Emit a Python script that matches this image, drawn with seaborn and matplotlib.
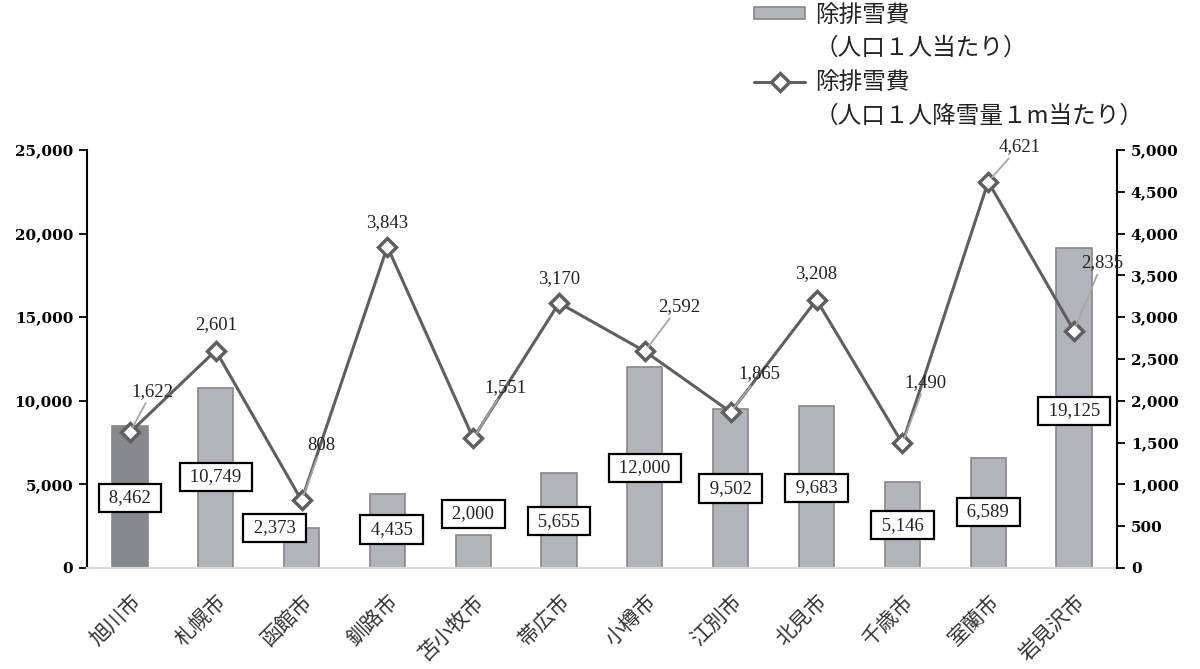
import matplotlib
matplotlib.use('Agg')
import matplotlib.pyplot as plt
import seaborn as sns
import pandas as pd
import numpy as np
from matplotlib.patches import Patch
from matplotlib.lines import Line2D
from matplotlib.ticker import FuncFormatter

# data
cities = ['旭川市', '札幌市', '函館市', '釧路市', '苫小牧市', '帯広市',
          '小樽市', '江別市', '北見市', '千歳市', '室蘭市', '岩見沢市']
per_capita = [8462, 10749, 2373, 4435, 2000, 5655, 12000, 9502, 9683, 5146, 6589, 19125]
per_snow_m = [1622, 2601, 808, 3843, 1551, 3170, 2592, 1865, 3208, 1490, 4621, 2835]

# where the boxed bar labels sit (left axis units) and small x shifts (px)
box_y = [4200, 5450, 2400, 2300, 3250, 2800, 6000, 4750, 4800, 2550, 3350, 9400]
box_dx = [0, 0, -27, 4, 0, 0, 0, 0, 0, 0, 0, 0]
# offsets of line labels from their points (px)
lbl_dx = [22, 0, 20, 0, 32, 0, 34, 29, 0, 23, 31, 28]
lbl_dy = [41, 26, 55, 24, 51, 24, 45, 38, 26, 61, 35, 68]

sns.set_theme(style='white')
plt.rcParams['font.family'] = ['Noto Sans CJK JP', 'DejaVu Sans']

df = pd.DataFrame({'city': cities, 'per_capita': per_capita, 'per_snow': per_snow_m})

fig = plt.figure(figsize=(12, 6.69), dpi=100)
ax = fig.add_axes([0.0725, 0.151, 0.8583, 0.6248])

bar_colors = ['#87888c'] + ['#b3b4b8'] * 11
sns.barplot(data=df, x='city', y='per_capita', hue='city', palette=bar_colors,
            legend=False, width=0.41, edgecolor='#88888a', linewidth=1.2,
            saturation=1, ax=ax)
ax.patches[0].set_edgecolor('#87888c')
ax.set_xlim(-0.5, 11.5)
ax.set_ylim(0, 25000)
ax.set_yticks(np.arange(0, 25001, 5000))
ax.yaxis.set_major_formatter(FuncFormatter(lambda v, p: f'{v:,.0f}'))
ax.set_xlabel('')
ax.set_ylabel('')

ax2 = ax.twinx()
sns.lineplot(x=np.arange(len(cities)), y=per_snow_m, ax=ax2, color='#5f5f5f', lw=2.2,
             marker='D', markersize=9, markerfacecolor='white',
             markeredgecolor='#5f5f5f', markeredgewidth=2.5)
ax2.set_ylim(0, 5000)
ax2.set_yticks(np.arange(0, 5001, 500))
ax2.yaxis.set_major_formatter(FuncFormatter(lambda v, p: f'{v:,.0f}'))
ax2.set_xlim(-0.5, 11.5)

# spines and ticks
for s in ['top', 'right']:
    ax.spines[s].set_visible(False)
ax.spines['left'].set_color('black')
ax.spines['left'].set_linewidth(1.5)
ax.spines['bottom'].set_color('#d9d9d9')
ax.spines['bottom'].set_linewidth(1.5)
for s in ['top', 'left', 'bottom']:
    ax2.spines[s].set_visible(False)
ax2.spines['right'].set_color('black')
ax2.spines['right'].set_linewidth(1.5)

ax.tick_params(axis='y', left=True, direction='out', length=6, width=1.3, color='black', pad=4)
ax2.tick_params(axis='y', right=True, direction='out', length=6, width=1.3, color='black', pad=4)
ax.set_xticks(range(len(cities)))
ax.set_xticklabels(cities, rotation=45, ha='right', rotation_mode='anchor',
                   fontsize=15, color='#333333')
ax.tick_params(axis='x', bottom=False, pad=10)

for lab in ax.get_yticklabels() + ax2.get_yticklabels():
    lab.set_fontfamily('DejaVu Serif')
    lab.set_fontweight('bold')
    lab.set_fontsize(11)
    lab.set_color('black')

# boxed labels for bars
for i, (v, y, dx) in enumerate(zip(per_capita, box_y, box_dx)):
    ax.annotate(f' {v:,} ', xy=(i, y), xytext=(dx, 0), textcoords='offset pixels',
                ha='center', va='center', fontsize=13.5, family='Liberation Serif',
                color='#222222',
                bbox=dict(boxstyle='square,pad=0.3', fc='white', ec='black', lw=1.6))

# labels for line points
for i, (v, dx, dy) in enumerate(zip(per_snow_m, lbl_dx, lbl_dy)):
    arrow = None
    if dy > 30:
        arrow = dict(arrowstyle='-', color='#a6a6a6', lw=1.3, shrinkA=0, shrinkB=4)
    ax2.annotate(f'{v:,}', xy=(i, v), xytext=(dx, dy), textcoords='offset pixels',
                 ha='center', va='center', fontsize=13.5, family='Liberation Serif',
                 color='#222222', arrowprops=arrow)

# legend
handles = [Patch(facecolor='#b3b4b8', edgecolor='#88888a', linewidth=1.2),
           Line2D([], [], color='none'),
           Line2D([], [], color='#5f5f5f', lw=2.2, marker='D', markersize=9,
                  markerfacecolor='white', markeredgecolor='#5f5f5f', markeredgewidth=2.5),
           Line2D([], [], color='none')]
labels = ['除排雪費', '（人口１人当たり）', '除排雪費', '（人口１人降雪量１m当たり）']
fig.legend(handles, labels, loc='upper left', bbox_to_anchor=(0.625, 1.0),
           frameon=False, fontsize=17, handlelength=2.2, handleheight=0.35,
           handletextpad=0.4, labelspacing=0.45, borderaxespad=0, borderpad=0.15,
           labelcolor='#222222')

fig.savefig('out.png', dpi=100)
